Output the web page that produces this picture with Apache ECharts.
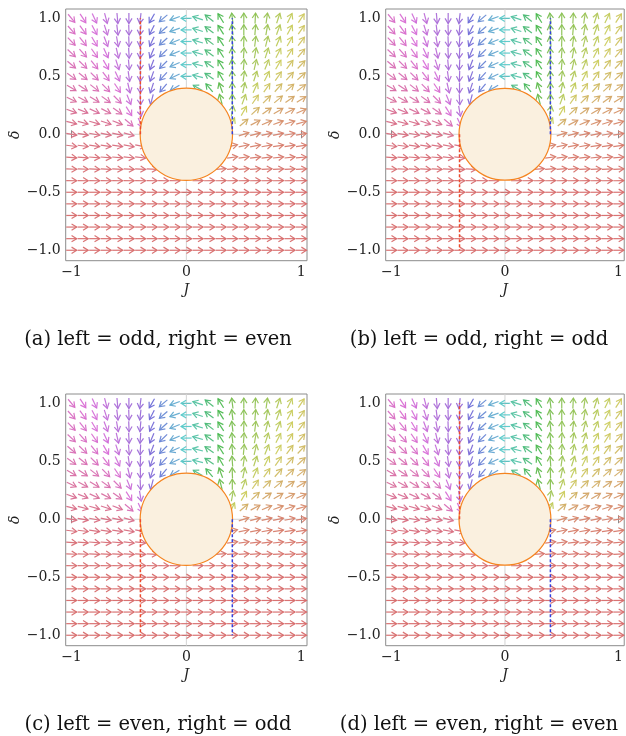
<!DOCTYPE html>
<html>
<head>
<meta charset="utf-8">
<script src="https://cdn.jsdelivr.net/npm/echarts@6/dist/echarts.min.js"></script>
<style>
  html, body { margin: 0; padding: 0; background: #fff; }
  #chart { width: 626px; height: 736px; }
</style>
</head>
<body>
<div id="chart"></div>
<script>
// Grid of sample points for the direction field
const J_VALUES = [-1, -0.9, -0.8, -0.7, -0.6, -0.5, -0.4, -0.3, -0.2, -0.1, 0, 0.1, 0.2, 0.3, 0.4, 0.5, 0.6, 0.7, 0.8, 0.9, 1];
const DELTA_VALUES = [1, 0.9, 0.8, 0.7, 0.6, 0.5, 0.4, 0.3, 0.2, 0.1, 0, -0.1, -0.2, -0.3, -0.4, -0.5, -0.6, -0.7, -0.8, -0.9, -1];

// Flow direction (degrees, counter-clockwise from +J) at each sample point;
// one row per δ value (top to bottom), null where the point lies in the excluded disc.
const _ = null;
const ANGLE_ROWS = [
  [-50, -57, -65, -75, -85, -90, -97, -120, -140, -160, 180, 162, 142, 122, 97, 90, 87, 82, 72, 64, 57],
  [-48, -54, -62, -72, -83, -88, -96, -117, -139, -160, 180, 162, 143, 122, 97, 90, 85, 80, 70, 62, 55],
  [-46, -51, -59, -69, -80, -88, -95, -115, -138, -158, 180, 163, 143, 123, 97, 88, 83, 76, 67, 60, 53],
  [-43, -48, -55, -65, -77, -87, -94, -113, -136, -157, 180, 164, 144, 123, 96, 86, 80, 72, 63, 57, 50],
  [-40, -44, -51, -60, -72, -85, -93, -111, -135, -156, 180, 165, 145, 122, 95, 85, 77, 68, 60, 53, 47],
  [-36, -39, -45, -53, -65, -82, -92, -110, -133, -155, 180, 166, 146, 120, 94, 82, 72, 63, 55, 48, 43],
  [-31, -34, -38, -45, -56, -77, -90, -108, -130, -150, _, 150, 130, 110, 92, 78, 65, 55, 48, 42, 38],
  [-26, -28, -31, -36, -45, -68, -87, -105, _, _, _, _, _, 105, 90, 70, 55, 45, 40, 35, 32],
  [-20, -22, -25, -28, -35, -58, -80, _, _, _, _, _, _, _, 80, 60, 43, 35, 30, 27, 24],
  [-14, -15, -16, -18, -22, -40, -65, _, _, _, _, _, _, _, 65, 40, 28, 23, 20, 18, 16],
  [-10, -10, -11, -12, -13, -16, _, _, _, _, _, _, _, _, _, 18, 15, 13, 12, 11, 10],
  [-7, -7, -8, -8, -9, -10, -11, _, _, _, _, _, _, _, 13, 12, 11, 10, 9, 8, 8],
  [-4, -4, -5, -5, -5, -6, -6, _, _, _, _, _, _, _, 8, 8, 7, 7, 6, 6, 5],
  [-2, -2, -3, -3, -3, -3, -3, -3, _, _, _, _, _, 4, 4, 4, 4, 3, 3, 3, 3],
  [-1, -1, -1, -1, -1, -1, -1, -1, -1, -1, _, 1, 1, 1, 1, 1, 1, 1, 1, 1, 1],
  [0, 0, 0, 0, 0, 0, 0, 0, 0, 0, 0, 0, 0, 0, 0, 0, 0, 0, 0, 0, 0],
  [0, 0, 0, 0, 0, 0, 0, 0, 0, 0, 0, 0, 0, 0, 0, 0, 0, 0, 0, 0, 0],
  [0, 0, 0, 0, 0, 0, 0, 0, 0, 0, 0, 0, 0, 0, 0, 0, 0, 0, 0, 0, 0],
  [0, 0, 0, 0, 0, 0, 0, 0, 0, 0, 0, 0, 0, 0, 0, 0, 0, 0, 0, 0, 0],
  [0, 0, 0, 0, 0, 0, 0, 0, 0, 0, 0, 0, 0, 0, 0, 0, 0, 0, 0, 0, 0],
  [0, 0, 0, 0, 0, 0, 0, 0, 0, 0, 0, 0, 0, 0, 0, 0, 0, 0, 0, 0, 0]
];

// Excluded disc (centre J, centre δ, radius)
const DISC = [0, 0, 0.4];

// Boundary branches: J position, and δ end (+1 = upward, -1 = downward) per panel
const LEFT_J = -0.4;
const RIGHT_J = 0.4;
const PANELS = [
  { caption: '(a) left = odd, right = even', leftEnd: 1, rightEnd: 1 },
  { caption: '(b) left = odd, right = odd', leftEnd: -1, rightEnd: 1 },
  { caption: '(c) left = even, right = odd', leftEnd: -1, rightEnd: -1 },
  { caption: '(d) left = even, right = even', leftEnd: 1, rightEnd: -1 }
];

const X_TICKS = [-1, 0, 1];
const Y_TICKS = [-1, -0.5, 0, 0.5, 1];

// ---------------------------------------------------------------------------
const FONT = '"DejaVu Serif", "Liberation Serif", serif';
const X_RANGE = [-1.05, 1.05];
const Y_RANGE = [-1.09, 1.08];
const PANEL_BOX = { w: 241.3, h: 251.7 };
const PANEL_POS = [[65.7, 9], [385.7, 9], [65.7, 394], [385.7, 394]];
const CAPTION_X = [158, 479, 158, 479];

const fieldData = [];
DELTA_VALUES.forEach((d, r) => {
  J_VALUES.forEach((j, c) => {
    const a = ANGLE_ROWS[r][c];
    if (a !== null) fieldData.push([j, d, a]);
  });
});

// Hue follows the flow direction; greens/cyans are toned down so that the
// wheel reads evenly bright.
function arrowColor(deg) {
  const h = ((deg % 360) + 360) % 360;
  const bump = Math.exp(-Math.pow((h - 125) / 70, 2));
  const light = 64 - 13 * bump;
  const sat = 58 - 14 * bump;
  return 'hsla(' + h + ', ' + sat.toFixed(1) + '%, ' + light.toFixed(1) + '%, 0.95)';
}

function renderArrow(params, api) {
  const p = api.coord([api.value(0), api.value(1)]);
  const deg = api.value(2);
  const a = deg * Math.PI / 180;
  const L = 10.5, head = 6, spread = 0.55;
  const ux = Math.cos(a), uy = -Math.sin(a);
  const tail = [p[0] - ux * L / 2, p[1] - uy * L / 2];
  const tip = [p[0] + ux * L / 2, p[1] + uy * L / 2];
  const b1 = a + Math.PI + spread, b2 = a + Math.PI - spread;
  const leg1 = [tip[0] + head * Math.cos(b1), tip[1] - head * Math.sin(b1)];
  const leg2 = [tip[0] + head * Math.cos(b2), tip[1] - head * Math.sin(b2)];
  const col = arrowColor(deg);
  return {
    type: 'group',
    children: [
      { type: 'line', shape: { x1: tail[0], y1: tail[1], x2: tip[0], y2: tip[1] },
        style: { stroke: col, lineWidth: 1.2 } },
      { type: 'polyline', shape: { points: [leg1, tip, leg2] },
        style: { stroke: col, fill: null, lineWidth: 1.2 } }
    ]
  };
}

function renderDisc(params, api) {
  const c = api.coord([api.value(0), api.value(1)]);
  const s = api.size([api.value(2), api.value(2)]);
  return {
    type: 'circle',
    shape: { cx: c[0], cy: c[1], r: (s[0] + s[1]) / 2 },
    style: { fill: '#faf0df', stroke: '#f5841f', lineWidth: 1.2 }
  };
}

function fmtY(v) {
  return (v < 0 ? '\u2212' : '') + Math.abs(v).toFixed(1);
}
function fmtX(v) {
  return (v < 0 ? '\u2212' : '') + Math.abs(v);
}

const grids = [], xAxes = [], yAxes = [], series = [], graphics = [];
const tickStyle = { inside: true, length: 4, lineStyle: { color: '#8c8c8c', width: 1 } };

PANELS.forEach((panel, i) => {
  const [left, top] = PANEL_POS[i];
  grids.push({ left: left, top: top, width: PANEL_BOX.w, height: PANEL_BOX.h,
    show: true, borderColor: '#8c8c8c', borderWidth: 1, backgroundColor: 'transparent' });

  xAxes.push({
    gridIndex: i, type: 'value', position: 'bottom', min: X_RANGE[0], max: X_RANGE[1],
    axisLine: { show: false }, splitLine: { show: false },
    axisTick: Object.assign({ customValues: X_TICKS }, tickStyle),
    axisLabel: { customValues: X_TICKS, formatter: fmtX, color: '#222', fontFamily: FONT, fontSize: 14, margin: 5 },
    name: 'J', nameLocation: 'middle', nameGap: 23,
    nameTextStyle: { fontFamily: FONT, fontStyle: 'italic', fontSize: 14, color: '#222' }
  });
  xAxes.push({
    gridIndex: i, type: 'value', position: 'top', min: X_RANGE[0], max: X_RANGE[1],
    axisLine: { show: false }, splitLine: { show: false },
    axisTick: Object.assign({ customValues: X_TICKS }, tickStyle),
    axisLabel: { show: false }
  });
  yAxes.push({
    gridIndex: i, type: 'value', position: 'left', min: Y_RANGE[0], max: Y_RANGE[1],
    axisLine: { show: false }, splitLine: { show: false },
    axisTick: Object.assign({ customValues: Y_TICKS }, tickStyle),
    axisLabel: { customValues: Y_TICKS, formatter: fmtY, color: '#222', fontFamily: FONT, fontSize: 14, margin: 5 },
    name: '\u03b4', nameLocation: 'middle', nameGap: 43,
    nameTextStyle: { fontFamily: FONT, fontStyle: 'italic', fontSize: 14, color: '#222' }
  });
  yAxes.push({
    gridIndex: i, type: 'value', position: 'right', min: Y_RANGE[0], max: Y_RANGE[1],
    axisLine: { show: false }, splitLine: { show: false },
    axisTick: Object.assign({ customValues: Y_TICKS }, tickStyle),
    axisLabel: { show: false }
  });

  const xi = 2 * i, yi = 2 * i;

  // faint coordinate axes through the origin
  series.push({ type: 'line', xAxisIndex: xi, yAxisIndex: yi, silent: true, symbol: 'none', z: 1,
    lineStyle: { color: '#d4d4d4', width: 1 }, data: [[X_RANGE[0], 0], [X_RANGE[1], 0]] });
  series.push({ type: 'line', xAxisIndex: xi, yAxisIndex: yi, silent: true, symbol: 'none', z: 1,
    lineStyle: { color: '#d4d4d4', width: 1 }, data: [[0, Y_RANGE[0]], [0, Y_RANGE[1]]] });

  // direction field
  series.push({ type: 'custom', xAxisIndex: xi, yAxisIndex: yi, silent: true, z: 2,
    renderItem: renderArrow, encode: { x: 0, y: 1 }, data: fieldData });

  // excluded disc
  series.push({ type: 'custom', xAxisIndex: xi, yAxisIndex: yi, silent: true, z: 3,
    renderItem: renderDisc, encode: { x: 0, y: 1 }, data: [DISC] });

  // boundary branches
  series.push({ type: 'line', xAxisIndex: xi, yAxisIndex: yi, silent: true, symbol: 'none', z: 4,
    lineStyle: { color: '#ec4a2c', width: 1.5, type: [3, 2] },
    data: [[LEFT_J, 0], [LEFT_J, panel.leftEnd]] });
  series.push({ type: 'line', xAxisIndex: xi, yAxisIndex: yi, silent: true, symbol: 'none', z: 4,
    lineStyle: { color: '#3340dd', width: 1.5, type: [3, 2] },
    data: [[RIGHT_J, 0], [RIGHT_J, panel.rightEnd]] });

  graphics.push({
    type: 'text', x: CAPTION_X[i], y: top + 331,
    style: { text: panel.caption, fontFamily: FONT, fontSize: 19.5, fill: '#111',
      textAlign: 'center', textVerticalAlign: 'middle' }
  });
});

const chart = echarts.init(document.getElementById('chart'), null, { renderer: 'canvas' });
chart.setOption({
  animation: false,
  backgroundColor: '#fff',
  grid: grids,
  xAxis: xAxes,
  yAxis: yAxes,
  series: series,
  graphic: graphics
});
</script>
</body>
</html>
